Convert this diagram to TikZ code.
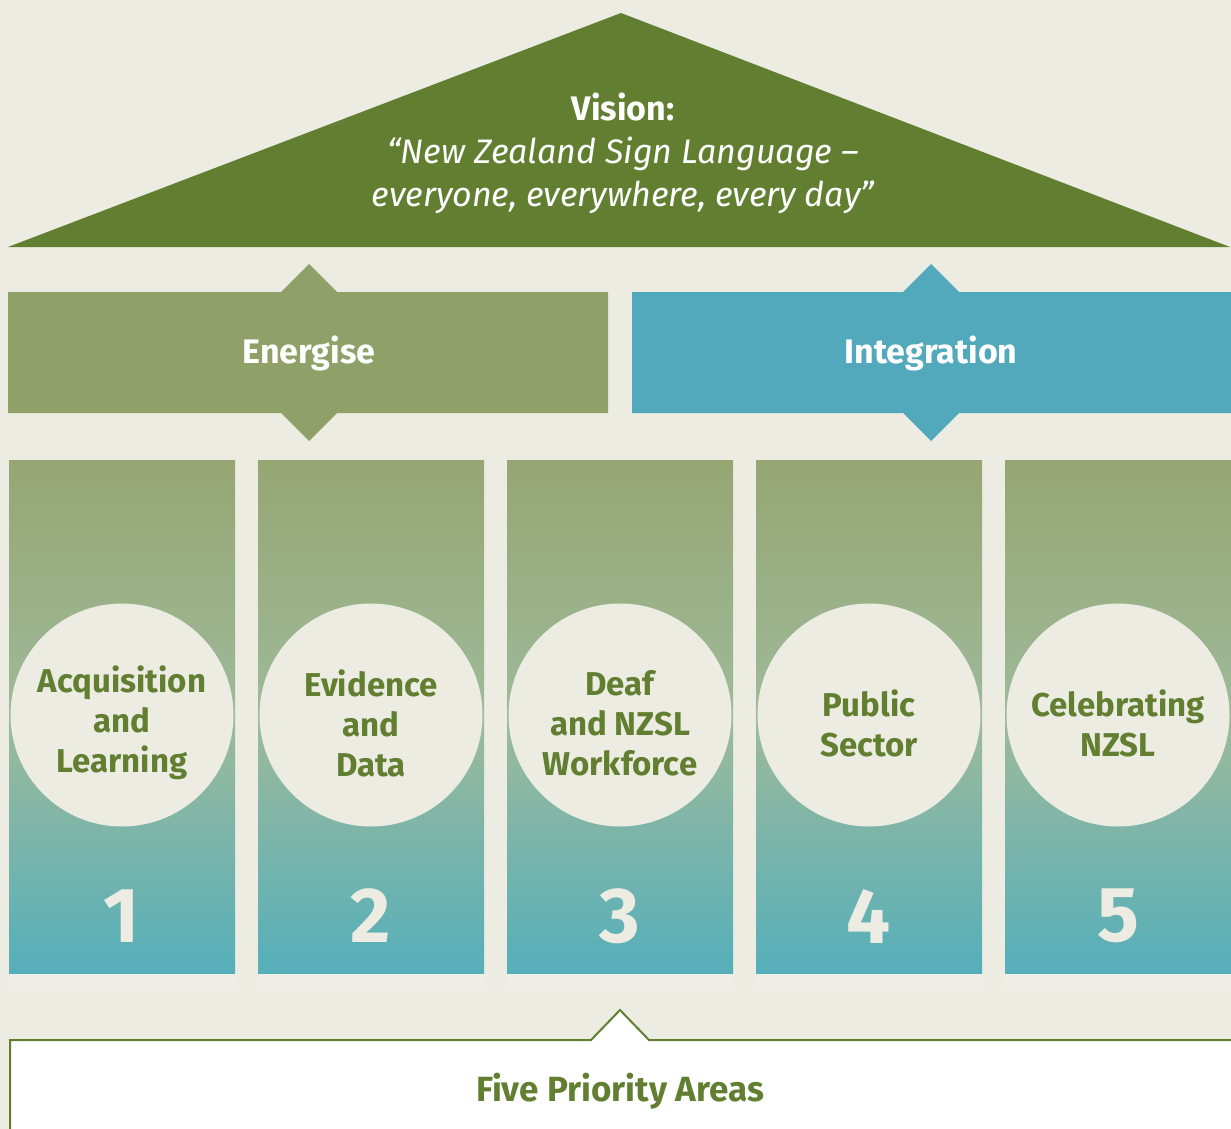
\documentclass[tikz,border=0pt]{standalone}
\usepackage{fontspec}
\setmainfont{Fira Sans}
\definecolor{bgc}{HTML}{ECECE3}
\definecolor{roofc}{HTML}{627F31}
\definecolor{enc}{HTML}{8FA068}
\definecolor{intc}{HTML}{51A9BB}
\definecolor{coltop}{HTML}{96A673}
\definecolor{colmid}{HTML}{9EBA9A}
\definecolor{colbot}{HTML}{55AFBA}
\definecolor{txtg}{HTML}{627F31}
\tikzset{
  bannertxt/.style={text=white,font=\fontsize{34}{38}\selectfont\bfseries},
  circ/.style={circle,fill=bgc,minimum size=223pt,inner sep=0pt},
  circtxt/.style={text=txtg,align=center,font=\fontsize{33}{40}\selectfont\bfseries},
  numtxt/.style={text=bgc,font=\fontsize{78}{80}\selectfont\bfseries},
}
\begin{document}
\begin{tikzpicture}[x=1pt,y=-1pt]
\fill[bgc] (0,0) rectangle (1231,1129);
\useasboundingbox (0,0) rectangle (1231,1129);
% roof
\fill[roofc] (8,247) -- (621,13) -- (1230,247) -- cycle;
\node[text=white,align=center,font=\fontsize{34}{43}\selectfont] (vision) at (623,153)
  {\textbf{Vision:}\\\itshape “New Zealand Sign Language –\\\itshape everyone, everywhere, every day”};
% banners
\fill[enc] (8,292) -- (281,292) -- (309,264) -- (337,292) -- (608,292) -- (608,413) -- (337,413) -- (309,441) -- (281,413) -- (8,413) -- cycle;
\node[bannertxt] (energise) at (309,353) {Energise};
\fill[intc] (632,292) -- (903,292) -- (931,264) -- (959,292) -- (1231,292) -- (1231,413) -- (959,413) -- (931,441) -- (903,413) -- (632,413) -- cycle;
\node[bannertxt] (integration) at (931,353) {Integration};
% columns
\foreach \i/\x in {1/9,2/258,3/507,4/756,5/1005}{
  \fill[white,opacity=0.12] (\x,973) rectangle ++(226,17);
  \shade[top color=coltop,bottom color=colbot,middle color=colmid] (\x,460) rectangle ++(226,513);
  \node[circ] (c\i) at (\x+113,715) {};
  \node[numtxt] (n\i) at (\x+113,916) {\i};
}
\node[circtxt] at ([yshift=-8pt]c1.center) {Acquisition\\and\\Learning};
\node[circtxt] at ([yshift=-8pt]c2.center) {Evidence\\and\\Data};
\node[circtxt] at ([yshift=-8pt]c3.center) {Deaf\\and NZSL\\Workforce};
\node[circtxt] at ([yshift=-8pt]c4.center) {Public\\Sector};
\node[circtxt] at ([yshift=-8pt]c5.center) {Celebrating\\NZSL};
% bottom box
\filldraw[fill=white,draw=roofc,line width=2pt] (10,1135) -- (10,1040) -- (591,1040) -- (620,1010) -- (649,1040) -- (1235,1040) -- (1235,1135);
\node[text=txtg,font=\fontsize{35}{38}\selectfont\bfseries] (five) at (620,1091) {Five Priority Areas};
\end{tikzpicture}
\end{document}
